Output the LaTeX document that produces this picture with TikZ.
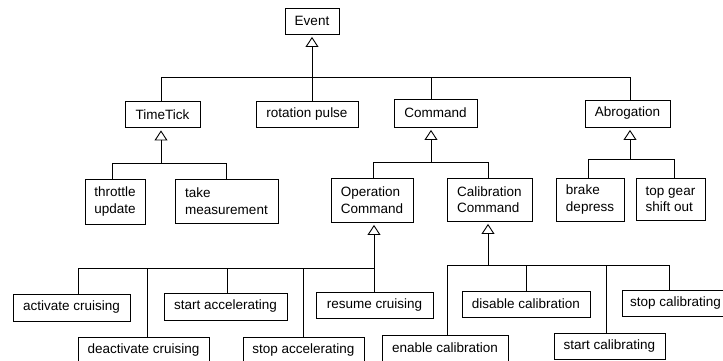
\documentclass[tikz,border=0pt]{standalone}
\usepackage{fontspec}
\setmainfont{Liberation Sans}
\usetikzlibrary{arrows.meta}
\begin{document}
\begin{tikzpicture}[x=1pt,y=-1pt,
  box/.style={draw, line width=0.9pt, inner sep=0pt, align=left,
              font=\fontsize{13.5}{16.5}\selectfont},
  link/.style={line width=0.9pt},
  gen/.style={line width=0.9pt, shorten >=2.5pt,
              -{Triangle[open, width=13pt, length=10pt, line width=0.9pt]}}]
\useasboundingbox (0,0) rectangle (723,360);
\clip (0,0) rectangle (723,360);

% classes
\node[box, minimum width=54pt,  minimum height=26pt] (event)      at (312,21)      {Event};
\node[box, minimum width=75pt,  minimum height=26pt] (timetick)   at (162.5,114.5) {TimeTick};
\node[box, minimum width=102pt, minimum height=26pt] (rotation)   at (307,114)     {rotation pulse};
\node[box, minimum width=83pt,  minimum height=28pt] (command)    at (435.5,113)   {Command};
\node[box, minimum width=85pt,  minimum height=27pt] (abrogation) at (627.5,113.5) {Abrogation};

\node[box, minimum width=60pt,  minimum height=45pt] (throttle)   at (115,201.5)   {throttle\\update};
\node[box, minimum width=103pt, minimum height=44pt] (take)       at (226.5,201)   {take\\measurement};
\node[box, minimum width=82pt,  minimum height=44pt] (opcmd)      at (372,200)     {Operation\\Command};
\node[box, minimum width=85pt,  minimum height=43pt] (calcmd)     at (489.5,199.5) {Calibration\\Command};
\node[box, minimum width=68pt,  minimum height=43pt] (brake)      at (590,199.5)   {brake\\depress};
\node[box, minimum width=69pt,  minimum height=42pt] (topgear)    at (670.5,199)   {top gear\\shift out};

\node[box, minimum width=117pt, minimum height=27pt] (activate)   at (71.5,307.5)  {activate cruising};
\node[box, minimum width=123pt, minimum height=27pt] (startacc)   at (225.5,306.5) {start accelerating};
\node[box, minimum width=117pt, minimum height=26pt] (resume)     at (374.5,305)   {resume cruising};
\node[box, minimum width=131pt, minimum height=26pt] (deactivate) at (143.5,350)   {deactivate cruising};
\node[box, minimum width=121pt, minimum height=26pt] (stopacc)    at (303.5,350)   {stop accelerating};

\node[box, minimum width=128pt, minimum height=26pt] (disable)    at (526,304)     {disable calibration};
\node[box, minimum width=107pt, minimum height=26pt] (stopcal)    at (675.5,303)   {stop calibrating};
\node[box, minimum width=126pt, minimum height=26pt] (enable)     at (445,348)     {enable calibration};
\node[box, minimum width=111pt, minimum height=26pt] (startcal)   at (609.5,346)   {start calibrating};

% Event hierarchy
\coordinate (ev-l) at (161,77);
\coordinate (ev-c) at (431,77);
\coordinate (ev-r) at (630,77);
\draw[gen] (rotation.north -| event.south) -- (event.south);
\draw[link] (ev-l) -- (ev-r);
\draw[link] (ev-l) -- (ev-l |- timetick.north);
\draw[link] (ev-c) -- (ev-c |- command.north);
\draw[link] (ev-r) -- (ev-r |- abrogation.north);

% TimeTick hierarchy
\coordinate (tt-j) at (161,163);
\coordinate (tt-l) at (112,163);
\coordinate (tt-r) at (226,163);
\draw[gen] (tt-j) -- (tt-j |- timetick.south);
\draw[link] (tt-l) -- (tt-r);
\draw[link] (tt-l) -- (tt-l |- throttle.north);
\draw[link] (tt-r) -- (tt-r |- take.north);

% Command hierarchy
\coordinate (cm-j) at (431,162);
\coordinate (cm-l) at (373,162);
\coordinate (cm-r) at (488,162);
\draw[gen] (cm-j) -- (cm-j |- command.south);
\draw[link] (cm-l) -- (cm-r);
\draw[link] (cm-l) -- (cm-l |- opcmd.north);
\draw[link] (cm-r) -- (cm-r |- calcmd.north);

% Abrogation hierarchy
\coordinate (ab-j) at (630,159);
\coordinate (ab-l) at (588,159);
\coordinate (ab-r) at (674,159);
\draw[gen] (ab-j) -- (ab-j |- abrogation.south);
\draw[link] (ab-l) -- (ab-r);
\draw[link] (ab-l) -- (ab-l |- brake.north);
\draw[link] (ab-r) -- (ab-r |- topgear.north);

% Operation Command hierarchy
\coordinate (op-j)  at (374,268);
\coordinate (op-a)  at (78,268);
\coordinate (op-d)  at (147,268);
\coordinate (op-sa) at (227,268);
\coordinate (op-so) at (303,268);
\draw[gen] (resume.north -| op-j) -- (op-j |- opcmd.south);
\draw[link] (op-a) -- (op-j);
\draw[link] (op-a)  -- (op-a  |- activate.north);
\draw[link] (op-d)  -- (op-d  |- deactivate.north);
\draw[link] (op-sa) -- (op-sa |- startacc.north);
\draw[link] (op-so) -- (op-so |- stopacc.north);

% Calibration Command hierarchy
\coordinate (ca-j)  at (488,265);
\coordinate (ca-e)  at (447,265);
\coordinate (ca-d)  at (526,265);
\coordinate (ca-sa) at (606,265);
\coordinate (ca-so) at (669,265);
\draw[gen] (ca-j) -- (ca-j |- calcmd.south);
\draw[link] (ca-e) -- (ca-so);
\draw[link] (ca-e)  -- (ca-e  |- enable.north);
\draw[link] (ca-d)  -- (ca-d  |- disable.north);
\draw[link] (ca-sa) -- (ca-sa |- startcal.north);
\draw[link] (ca-so) -- (ca-so |- stopcal.north);
\end{tikzpicture}
\end{document}
